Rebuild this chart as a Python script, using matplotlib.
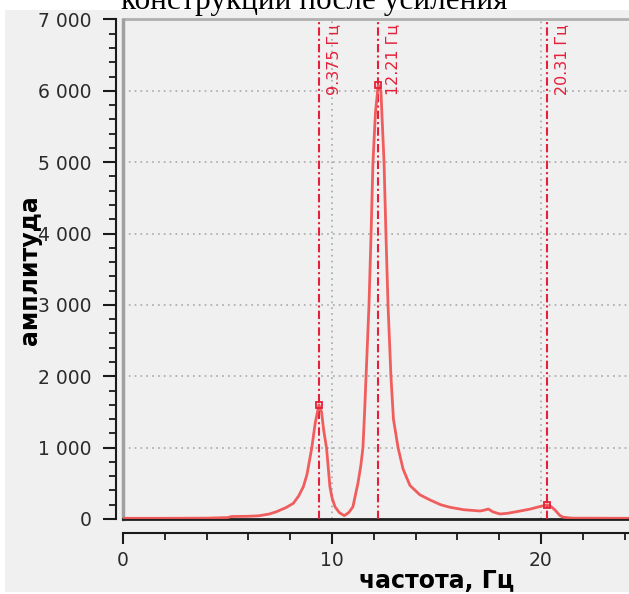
import matplotlib
matplotlib.use("Agg")
import matplotlib.pyplot as plt
from matplotlib.patches import Rectangle
from matplotlib.ticker import MultipleLocator, FuncFormatter

# ---- data ----
freq = [0, 2, 4, 5.0, 5.2, 6.0, 6.5, 7.0, 7.35, 7.8, 8.15, 8.4, 8.63, 8.8, 9.03,
        9.2, 9.375, 9.5, 9.6, 9.74, 9.9, 10.0, 10.14, 10.35, 10.59, 10.8, 11.0,
        11.24, 11.38, 11.48, 11.56, 11.63, 11.77, 11.87, 11.96, 12.08,
        12.21, 12.34, 12.49, 12.58, 12.68, 12.82, 12.94, 13.16, 13.4,
        13.73, 14.2, 14.69, 15.2, 15.65, 16.3, 17.08, 17.3, 17.48, 17.7, 18.04,
        18.4, 19.0, 19.5, 19.8, 20.1, 20.31, 20.5, 20.67, 20.9, 21.07, 21.5, 24.2]
amp = [10, 10, 12, 20, 35, 38, 45, 70, 103, 160, 220, 320, 453, 620, 992,
       1350, 1600, 1500, 1250, 992, 453, 300, 173, 90, 47, 90, 170,
       500, 750, 1000, 1500, 2000, 3000, 4000, 5000, 5700,
       6080, 6000, 5000, 4000, 3000, 2000, 1400, 1000, 700,
       470, 340, 267, 200, 164, 130, 112, 125, 140, 100, 70,
       80, 112, 140, 164, 185, 200, 170, 126, 50, 24, 12, 10]

peak_freq = [9.375, 12.21, 20.31]
peak_amp = [1600, 6080, 200]
peak_labels = ["9.375 Гц", "12.21 Гц", "20.31 Гц"]

y_ticks = [0, 1000, 2000, 3000, 4000, 5000, 6000, 7000]
x_ticks = [0, 10, 20]

title_text = "конструкции после усиления"
x_label = "частота, Гц"
y_label = "амплитуда"

# ---- figure ----
W, H = 629, 594
fig = plt.figure(figsize=(W / 100, H / 100), dpi=100, facecolor="white")
bg = "#f0f0f0"
fig.patches.append(Rectangle((5 / W, 2 / H), 1 - 5 / W, 1 - 12 / H,
                             transform=fig.transFigure, facecolor=bg,
                             edgecolor="none", zorder=-5))
fig.text(314 / W, 1 - 9 / H, title_text, ha="center", va="baseline",
         fontsize=22.5, family="Liberation Serif", color="black", zorder=5)

x0, x1 = 123, 629
y0, y1 = 519, 19.5
xmax = (x1 - x0) / 20.9
ax = fig.add_axes([x0 / W, 1 - y0 / H, (x1 - x0) / W, (y0 - y1) / H])
ax.set_zorder(1)
ax.set_facecolor(bg)
ax.set_xlim(0, xmax)
ax.set_ylim(0, 7000)

# grid
grid_kw = dict(color="#a8a8a8", lw=1.2, linestyle=(0, (1, 2.5)), zorder=1)
for yv in y_ticks[1:-1]:
    ax.axhline(yv, **grid_kw)
for xv in x_ticks[1:]:
    ax.axvline(xv, **grid_kw)
ax.axhline(7000, color="#b0b0b0", lw=2, zorder=1, clip_on=False)
ax.axvline(0, color="#a0a0a0", lw=2.5, zorder=1, clip_on=False)
ax.axhline(0, color="#202020", lw=2, zorder=2, clip_on=False)

# curve
ax.plot(freq, amp, color="#f05555", lw=2.0, zorder=4, alpha=0.95)

# peak markers and lines
red = "#e4203a"
for f, a, lab in zip(peak_freq, peak_amp, peak_labels):
    ax.axvline(f, color=red, lw=1.5, linestyle=(0, (4, 1.5, 1, 1.5)), zorder=3)
    ax.plot([f], [a], marker="s", ms=5, mfc="none", mec=red, mew=1.3, zorder=5)
    ax.annotate(lab, xy=(f, 7000), xycoords="data",
                xytext=(5, -3), textcoords="offset points",
                rotation=90, rotation_mode="anchor", ha="right", va="top",
                color=red, fontsize=11.4, family="DejaVu Sans", zorder=5)

# spines
for s in ["top", "right"]:
    ax.spines[s].set_visible(False)
ax.spines["left"].set_position(("outward", 5))
ax.spines["bottom"].set_position(("outward", 10))
ax.spines["left"].set_linewidth(1.5)
ax.spines["bottom"].set_linewidth(1.5)
ax.spines["left"].set_color("#1a1a1a")
ax.spines["bottom"].set_color("#1a1a1a")

ax.set_yticks(y_ticks)
ax.yaxis.set_minor_locator(MultipleLocator(200))
ax.set_xticks(x_ticks)
ax.xaxis.set_minor_locator(MultipleLocator(2))
ax.yaxis.set_major_formatter(FuncFormatter(lambda v, p: f"{int(v):,}".replace(",", " ")))
ax.tick_params(axis="y", which="major", length=9.5, width=1.5, pad=8,
               labelsize=13.5, labelcolor="#2b2b2b", color="#1a1a1a")
ax.tick_params(axis="y", which="minor", length=5, width=1.3, color="#1a1a1a")
ax.tick_params(axis="x", which="major", length=8, width=1.5, pad=5,
               labelsize=13.5, labelcolor="#2b2b2b", color="#1a1a1a")
ax.tick_params(axis="x", which="minor", length=5, width=1.3, color="#1a1a1a")
for lbl in ax.get_xticklabels() + ax.get_yticklabels():
    lbl.set_family("DejaVu Sans")

fig.text(437 / W, 1 - 588 / H, x_label, ha="center", va="baseline",
         fontsize=17, fontweight="bold", family="DejaVu Sans", color="black")
fig.text(30 / W, 1 - 270 / H, y_label, ha="center", va="center", rotation=90,
         fontsize=17, fontweight="bold", family="DejaVu Sans", color="black")

fig.savefig("out.png", dpi=100, facecolor="white")
